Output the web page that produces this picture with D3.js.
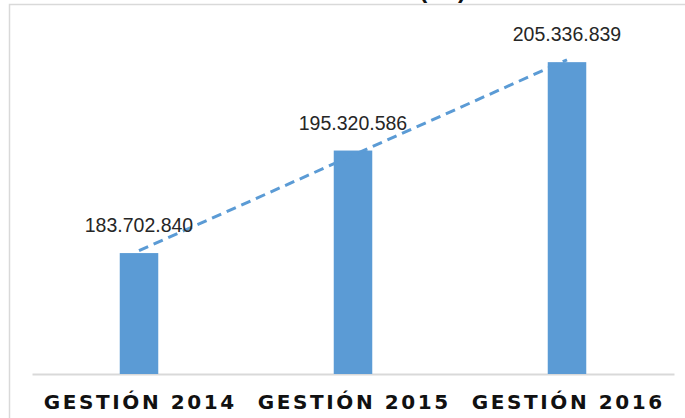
<!DOCTYPE html>
<html>
<head>
<meta charset="utf-8">
<script src="https://cdn.jsdelivr.net/npm/d3@7"></script>
<style>
  body { margin: 0; background: #fff; }
  svg { display: block; }
</style>
</head>
<body>
<div id="container"></div>
<script>
/* 1. CONSTANTS */
const width = 685,
      height = 418,
      margin = {top: 21, right: 11, bottom: 44, left: 32};

const barColor = "#5b9bd5";

/* 2. DATA */
const categories = ["GESTIÓN 2014", "GESTIÓN 2015", "GESTIÓN 2016"];
const values = [183702840, 195320586, 205336839];
const yDomain = [170000000, 210000000];
const titleText = "PRESUPUESTO EJECUTADO (Bs)";

// numbers like 183.702.840
const locale = d3.formatLocale({decimal: ",", thousands: ".", grouping: [3], currency: ["", ""]});
const fmt = locale.format(",d");

/* 3. SCALES */
const xScale = d3.scaleBand()
                 .domain(categories)
                 .range([margin.left, width - margin.right])
                 .paddingInner(0.82)
                 .paddingOuter(0.41);

const yScale = d3.scaleLinear()
                 .domain(yDomain)
                 .range([height - margin.bottom, margin.top]);

const cx = d => xScale(d) + xScale.bandwidth() / 2;

/* 4. SVG */
const svg = d3.select("#container")
              .append("svg")
              .attr("width", width)
              .attr("height", height);

// chart frame (right/bottom edges fall outside the picture)
svg.append("rect")
   .attr("x", 9.5)
   .attr("y", 4.5)
   .attr("width", width)
   .attr("height", height)
   .attr("fill", "none")
   .attr("stroke", "#d9d9d9")
   .attr("stroke-width", 1.5);

// title, cut off at the top like in the source picture
svg.append("text")
   .attr("x", 466)
   .attr("y", -2)
   .attr("text-anchor", "end")
   .attr("font-family", "Liberation Sans, Arial, sans-serif")
   .attr("font-weight", "bold")
   .attr("font-size", "24px")
   .attr("fill", "#111")
   .text(titleText);

// axis line + category labels
const xAxis = d3.axisBottom(xScale).tickSize(0).tickPadding(0);
const gx = svg.append("g")
   .attr("transform", `translate(0,${height - margin.bottom})`)
   .call(xAxis);
gx.select(".domain").attr("stroke", "#d9d9d9").attr("stroke-width", 2);
gx.selectAll(".tick text")
  .attr("y", 35)
  .attr("dy", 0)
  .attr("dx", "1.3px")
  .attr("font-family", "DejaVu Sans, Verdana, sans-serif")
  .attr("font-weight", "bold")
  .attr("font-size", "20px")
  .attr("letter-spacing", "2.6px")
  .attr("fill", "#111");

/* 5. BARS */
svg.selectAll("rect.bar")
   .data(values)
   .join("rect")
   .attr("class", "bar")
   .attr("x", (d, i) => xScale(categories[i]))
   .attr("y", d => yScale(d))
   .attr("width", xScale.bandwidth())
   .attr("height", d => yScale(yDomain[0]) - yScale(d))
   .attr("fill", barColor);

/* 6. LINEAR TRENDLINE (least squares) */
const xs = values.map((d, i) => i + 1);
const mx = d3.mean(xs), my = d3.mean(values);
const slope = d3.sum(xs, (x, i) => (x - mx) * (values[i] - my)) / d3.sum(xs, x => (x - mx) ** 2);
const intercept = my - slope * mx;
const trend = xs.map((x, i) => ({x: cx(categories[i]), y: yScale(intercept + slope * x)}));
const first = trend[0], last = trend[trend.length - 1];

svg.append("path")
   .datum([first, last])
   .attr("d", d3.line().x(d => d.x).y(d => d.y))
   .attr("fill", "none")
   .attr("stroke", barColor)
   .attr("stroke-width", 3)
   .attr("stroke-dasharray", "10,6");

/* 7. DATA LABELS */
svg.selectAll("text.val")
   .data(values)
   .join("text")
   .attr("class", "val")
   .attr("x", (d, i) => cx(categories[i]))
   .attr("y", d => yScale(d) - 21)
   .attr("text-anchor", "middle")
   .attr("font-family", "Liberation Sans, Arial, sans-serif")
   .attr("font-size", "19.5px")
   .attr("fill", "#262626")
   .text(d => fmt(d));
</script>
</body>
</html>
